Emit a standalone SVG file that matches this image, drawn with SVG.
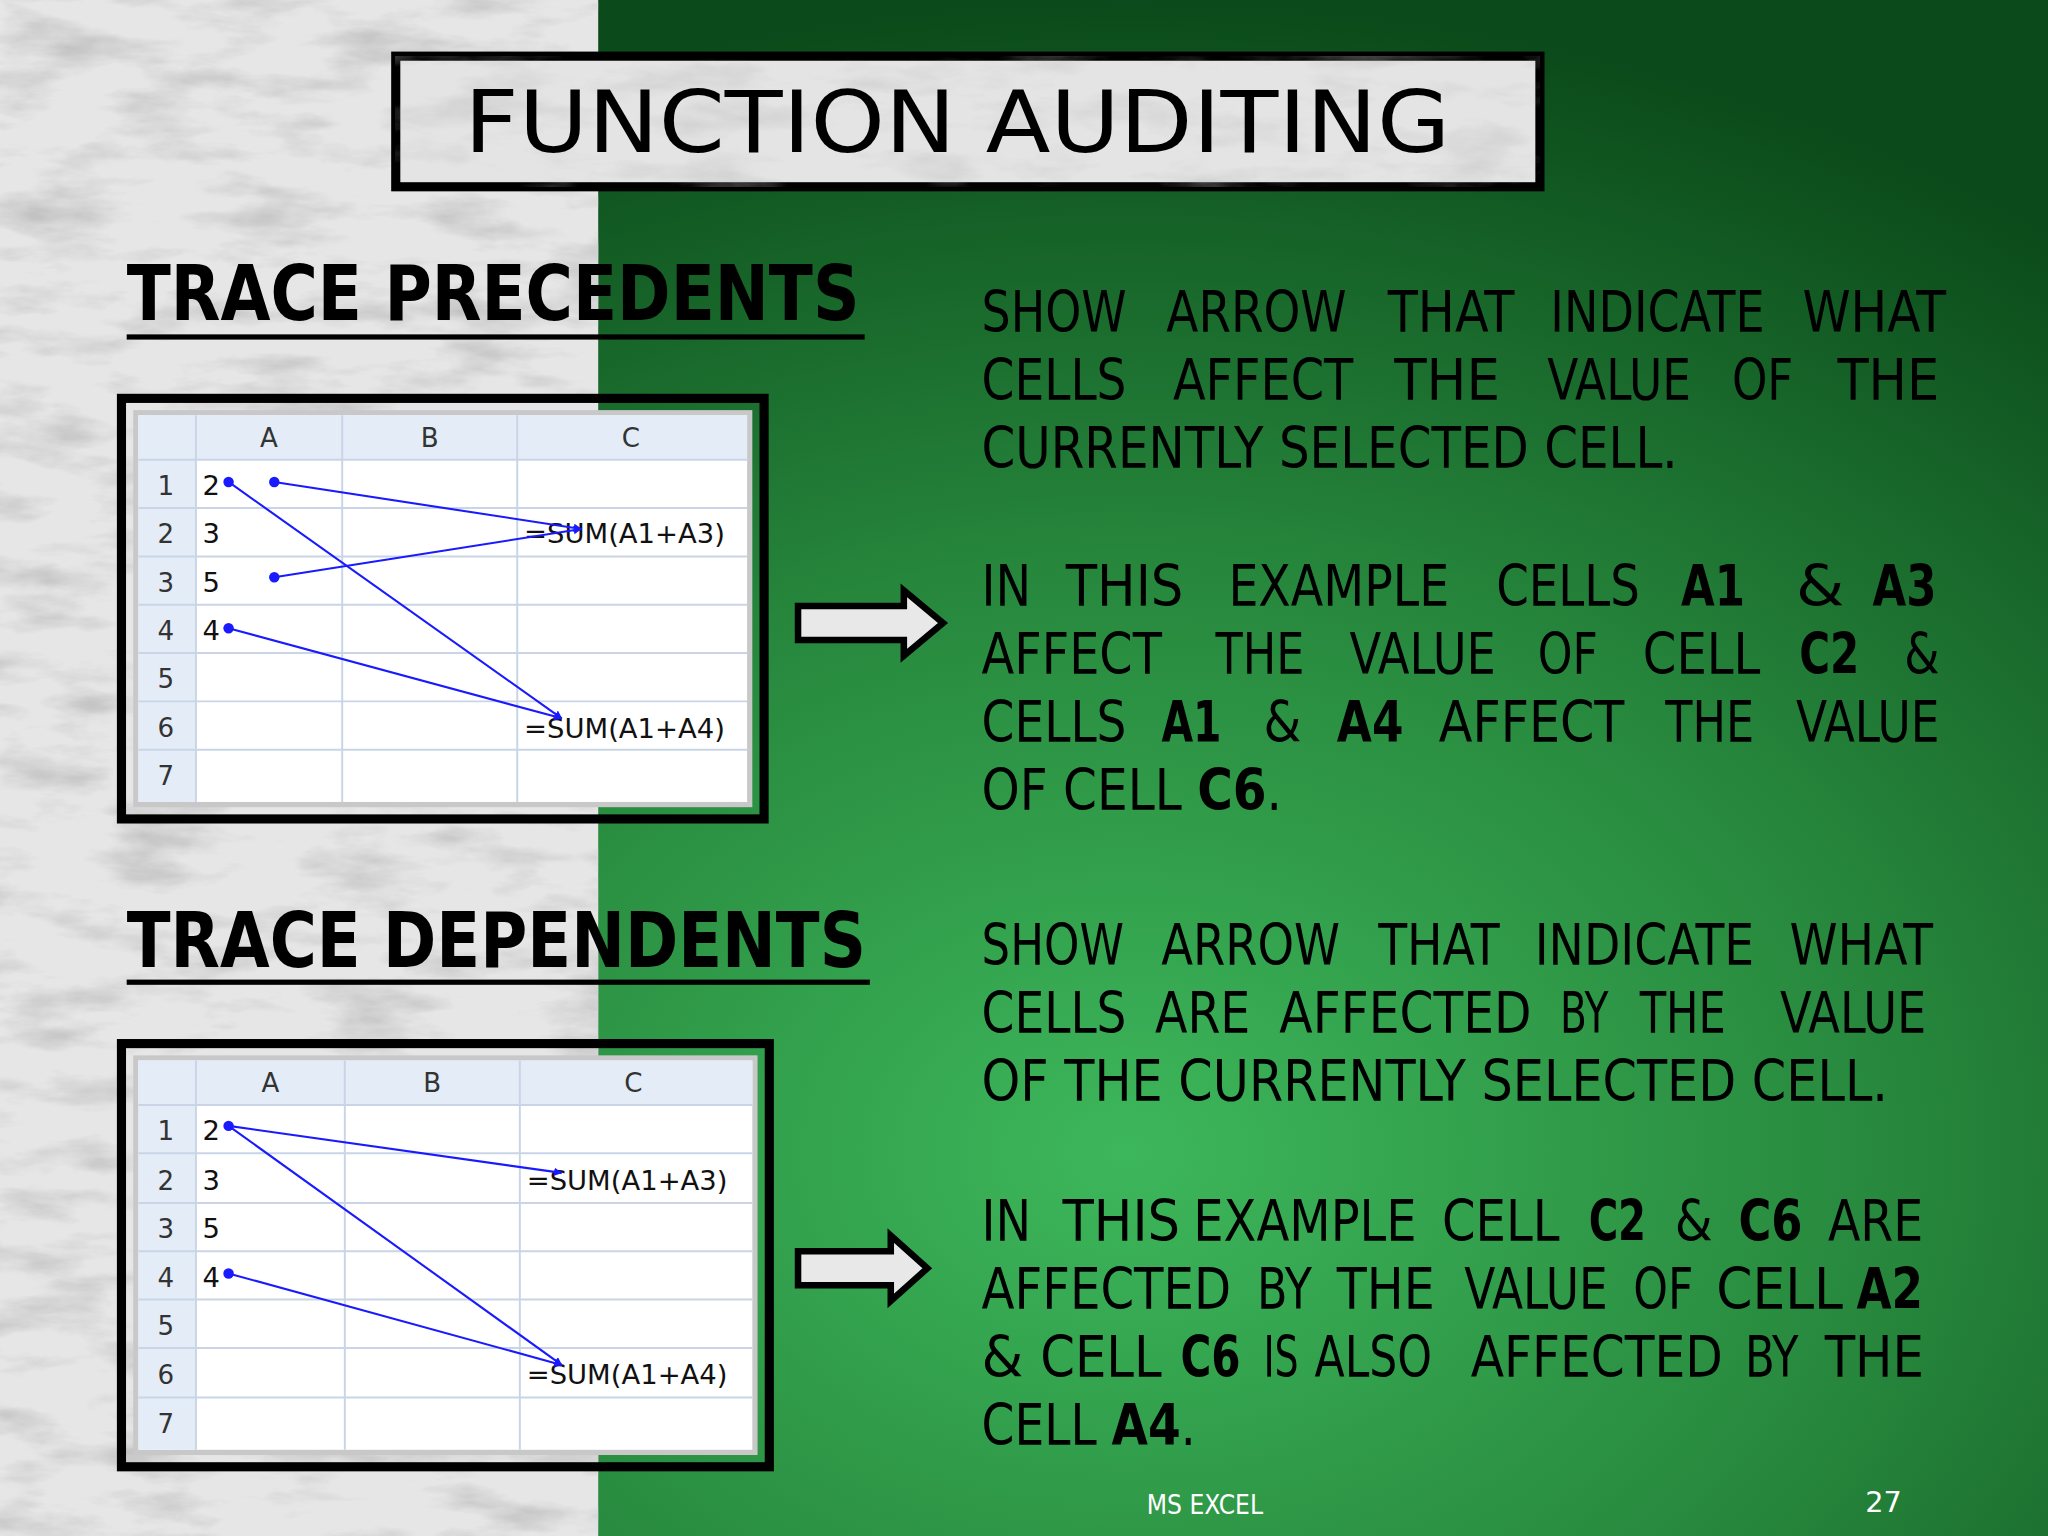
<svg xmlns="http://www.w3.org/2000/svg" width="2048" height="1536" viewBox="0 0 2048 1536">
<defs>
<radialGradient id="grn" cx="0.55" cy="0.75" r="0.75">
<stop offset="0" stop-color="#3db75b"/><stop offset="0.5" stop-color="#27883d"/><stop offset="1" stop-color="#0b4a1a"/>
</radialGradient>
<filter id="marble" x="0" y="0" width="1" height="1">
<feTurbulence type="fractalNoise" baseFrequency="0.012 0.04" numOctaves="5" seed="3"/>
<feColorMatrix type="matrix" values="0 0 0 0 0.45  0 0 0 0 0.45  0 0 0 0 0.45  1.6 0 0 0 -0.75"/>
</filter>
<marker id="ah" viewBox="0 0 10 10" refX="9" refY="5" markerWidth="4" markerHeight="4" orient="auto"><path d="M0,0L10,5L0,10z" fill="#1a1aff"/></marker>
<style>
.body text{font-family:"DejaVu Sans Condensed","DejaVu Sans","Liberation Sans",sans-serif;font-size:43px;fill:#000}
.b{font-weight:bold}
.hd{font-family:"DejaVu Sans","Liberation Sans",sans-serif;font-weight:bold;font-size:58px;fill:#000}
.cell{font-family:"DejaVu Sans","Liberation Sans",sans-serif;font-size:21px;fill:#111}
.hdr{font-family:"DejaVu Sans","Liberation Sans",sans-serif;font-size:20px;fill:#333}
.grid{stroke:#c9d5e6;stroke-width:1.5}
.lk{stroke:#1a1aff;stroke-width:1.6;fill:none}
.dot{fill:#1a1aff}
.barr{fill:#e8e8e8;stroke:#000;stroke-width:5;stroke-linejoin:miter}
</style>
</defs>
<g transform="scale(1.30612)">
<rect x="0" y="0" width="1568" height="1176" fill="url(#grn)"/>
<rect x="0" y="0" width="458" height="1176" fill="#e6e6e6"/>
<rect x="0" y="0" width="458" height="1176" filter="url(#marble)"/>
<g id="title">
<rect x="303" y="43" width="876" height="100" fill="#e4e4e4" stroke="#000" stroke-width="7"/>
<rect x="303" y="43" width="876" height="100" filter="url(#marble)" opacity="0.6"/>
<text x="733" y="116" text-anchor="middle" font-family="DejaVu Sans,Liberation Sans,sans-serif" font-size="66" textLength="755" lengthAdjust="spacingAndGlyphs">FUNCTION AUDITING</text>
</g>
<g id="h1">
<text class="hd" x="97" y="245" textLength="561" lengthAdjust="spacingAndGlyphs">TRACE PRECEDENTS</text>
<rect x="97" y="256" width="565" height="4" fill="#000"/>
</g>
<g id="h2">
<text class="hd" x="97" y="740" textLength="566" lengthAdjust="spacingAndGlyphs">TRACE DEPENDENTS</text>
<rect x="97" y="750" width="569" height="4" fill="#000"/>
</g>
<g id="sheet1">
<rect x="93" y="305" width="492" height="322" fill="none" stroke="#000" stroke-width="7"/>
<rect x="102" y="314" width="474" height="304" fill="#c8c8c8"/>
<rect x="106" y="318" width="466" height="296" fill="#fff"/>
<rect x="106" y="318" width="466" height="34" fill="#e3ecf7"/>
<rect x="106" y="318" width="44" height="296" fill="#e3ecf7"/>
<g class="grid">
<line x1="106" y1="352" x2="572" y2="352"/><line x1="106" y1="389" x2="572" y2="389"/><line x1="106" y1="426" x2="572" y2="426"/><line x1="106" y1="463" x2="572" y2="463"/><line x1="106" y1="500" x2="572" y2="500"/><line x1="106" y1="537" x2="572" y2="537"/><line x1="106" y1="574" x2="572" y2="574"/>
<line x1="150" y1="318" x2="150" y2="614"/><line x1="262" y1="318" x2="262" y2="614"/><line x1="396" y1="318" x2="396" y2="614"/>
</g>
<text class="hdr" x="206" y="342" text-anchor="middle">A</text><text class="hdr" x="329" y="342" text-anchor="middle">B</text><text class="hdr" x="483" y="342" text-anchor="middle">C</text>
<text class="hdr" x="127" y="379" text-anchor="middle">1</text><text class="hdr" x="127" y="416" text-anchor="middle">2</text><text class="hdr" x="127" y="453" text-anchor="middle">3</text><text class="hdr" x="127" y="490" text-anchor="middle">4</text><text class="hdr" x="127" y="527" text-anchor="middle">5</text><text class="hdr" x="127" y="564" text-anchor="middle">6</text><text class="hdr" x="127" y="601" text-anchor="middle">7</text>
<text class="cell" x="155" y="379">2</text><text class="cell" x="155" y="416">3</text><text class="cell" x="155" y="453">5</text><text class="cell" x="155" y="490">4</text>
<text class="cell" x="555" y="416" text-anchor="end">=SUM(A1+A3)</text><text class="cell" x="555" y="565" text-anchor="end">=SUM(A1+A4)</text>
</g>
<g id="sheet2">
<rect x="93" y="799" width="496" height="324" fill="none" stroke="#000" stroke-width="7"/>
<rect x="102" y="808" width="478" height="306" fill="#c8c8c8"/>
<rect x="106" y="812" width="470" height="298" fill="#fff"/>
<rect x="106" y="812" width="470" height="34" fill="#e3ecf7"/>
<rect x="106" y="812" width="44" height="298" fill="#e3ecf7"/>
<g class="grid">
<line x1="106" y1="846" x2="576" y2="846"/><line x1="106" y1="883" x2="576" y2="883"/><line x1="106" y1="921" x2="576" y2="921"/><line x1="106" y1="958" x2="576" y2="958"/><line x1="106" y1="995" x2="576" y2="995"/><line x1="106" y1="1032" x2="576" y2="1032"/><line x1="106" y1="1070" x2="576" y2="1070"/>
<line x1="150" y1="812" x2="150" y2="1110"/><line x1="264" y1="812" x2="264" y2="1110"/><line x1="398" y1="812" x2="398" y2="1110"/>
</g>
<text class="hdr" x="207" y="836" text-anchor="middle">A</text><text class="hdr" x="331" y="836" text-anchor="middle">B</text><text class="hdr" x="485" y="836" text-anchor="middle">C</text>
<text class="hdr" x="127" y="873" text-anchor="middle">1</text><text class="hdr" x="127" y="911" text-anchor="middle">2</text><text class="hdr" x="127" y="948" text-anchor="middle">3</text><text class="hdr" x="127" y="985" text-anchor="middle">4</text><text class="hdr" x="127" y="1022" text-anchor="middle">5</text><text class="hdr" x="127" y="1060" text-anchor="middle">6</text><text class="hdr" x="127" y="1097" text-anchor="middle">7</text>
<text class="cell" x="155" y="873">2</text><text class="cell" x="155" y="911">3</text><text class="cell" x="155" y="948">5</text><text class="cell" x="155" y="985">4</text>
<text class="cell" x="557" y="911" text-anchor="end">=SUM(A1+A3)</text><text class="cell" x="557" y="1060" text-anchor="end">=SUM(A1+A4)</text>
</g>
<g id="connectors">
<line class="lk" x1="210" y1="369" x2="445" y2="405" marker-end="url(#ah)"/>
<line class="lk" x1="210" y1="442" x2="445" y2="405" marker-end="url(#ah)"/>
<line class="lk" x1="175" y1="369" x2="430" y2="550" marker-end="url(#ah)"/>
<line class="lk" x1="175" y1="481" x2="430" y2="550" marker-end="url(#ah)"/>
<circle class="dot" cx="210" cy="369" r="4"/><circle class="dot" cx="210" cy="442" r="4"/><circle class="dot" cx="175" cy="369" r="4"/><circle class="dot" cx="175" cy="481" r="4"/>
<line class="lk" x1="175" y1="862" x2="430" y2="898" marker-end="url(#ah)"/>
<line class="lk" x1="175" y1="862" x2="430" y2="1045" marker-end="url(#ah)"/>
<line class="lk" x1="175" y1="975" x2="430" y2="1045" marker-end="url(#ah)"/>
<circle class="dot" cx="175" cy="862" r="4"/><circle class="dot" cx="175" cy="975" r="4"/>
<polygon class="barr" points="611,464 692,464 692,452 722,477 692,502 692,490 611,490"/>
<polygon class="barr" points="611,958 682,958 682,946 710,971 682,996 682,984 611,984"/>
</g>
<g id="text1" class="body" lengthAdjust="spacingAndGlyphs">
<text x="751.5" y="254" textLength="111" lengthAdjust="spacingAndGlyphs">SHOW</text><text x="893" y="254" textLength="138" lengthAdjust="spacingAndGlyphs">ARROW</text><text x="1062.5" y="254" textLength="97" lengthAdjust="spacingAndGlyphs">THAT</text><text x="1187" y="254" textLength="164" lengthAdjust="spacingAndGlyphs">INDICATE</text><text x="1380" y="254" textLength="110" lengthAdjust="spacingAndGlyphs">WHAT</text>
<text x="751.5" y="306" textLength="111" lengthAdjust="spacingAndGlyphs">CELLS</text><text x="898" y="306" textLength="138" lengthAdjust="spacingAndGlyphs">AFFECT</text><text x="1067.4" y="306" textLength="81" lengthAdjust="spacingAndGlyphs">THE</text><text x="1184.6" y="306" textLength="110" lengthAdjust="spacingAndGlyphs">VALUE</text><text x="1326" y="306" textLength="47" lengthAdjust="spacingAndGlyphs">OF</text><text x="1406.8" y="306" textLength="78" lengthAdjust="spacingAndGlyphs">THE</text>
<text x="751.5" y="358" textLength="533" lengthAdjust="spacingAndGlyphs">CURRENTLY SELECTED CELL.</text>
<text x="751.5" y="464" textLength="38" lengthAdjust="spacingAndGlyphs">IN</text><text x="816" y="464" textLength="90" lengthAdjust="spacingAndGlyphs">THIS</text><text x="940.5" y="464" textLength="169" lengthAdjust="spacingAndGlyphs">EXAMPLE</text><text x="1145.5" y="464" textLength="110" lengthAdjust="spacingAndGlyphs">CELLS</text><text class="b" x="1287" y="464" textLength="49" lengthAdjust="spacingAndGlyphs">A1</text><text x="1375" y="464" textLength="37" lengthAdjust="spacingAndGlyphs">&amp;</text><text class="b" x="1433.6" y="464" textLength="49" lengthAdjust="spacingAndGlyphs">A3</text>
<text x="751.5" y="516" textLength="138" lengthAdjust="spacingAndGlyphs">AFFECT</text><text x="930.7" y="516" textLength="68" lengthAdjust="spacingAndGlyphs">THE</text><text x="1033.2" y="516" textLength="112" lengthAdjust="spacingAndGlyphs">VALUE</text><text x="1177.3" y="516" textLength="46" lengthAdjust="spacingAndGlyphs">OF</text><text x="1257.8" y="516" textLength="90" lengthAdjust="spacingAndGlyphs">CELL</text><text class="b" x="1377.5" y="516" textLength="46" lengthAdjust="spacingAndGlyphs">C2</text><text x="1458" y="516" textLength="27" lengthAdjust="spacingAndGlyphs">&amp;</text>
<text x="751.5" y="568" textLength="111" lengthAdjust="spacingAndGlyphs">CELLS</text><text class="b" x="889.2" y="568" textLength="46" lengthAdjust="spacingAndGlyphs">A1</text><text x="967.3" y="568" textLength="29" lengthAdjust="spacingAndGlyphs">&amp;</text><text class="b" x="1023.5" y="568" textLength="51" lengthAdjust="spacingAndGlyphs">A4</text><text x="1101.6" y="568" textLength="142" lengthAdjust="spacingAndGlyphs">AFFECT</text><text x="1275" y="568" textLength="68" lengthAdjust="spacingAndGlyphs">THE</text><text x="1375" y="568" textLength="110" lengthAdjust="spacingAndGlyphs">VALUE</text>
<text x="751.5" y="620" textLength="230" lengthAdjust="spacingAndGlyphs">OF CELL <tspan class="b">C6</tspan>.</text>
</g>
<g id="text2" class="body">
<text x="751.5" y="739" textLength="109" lengthAdjust="spacingAndGlyphs">SHOW</text><text x="889" y="739" textLength="137" lengthAdjust="spacingAndGlyphs">ARROW</text><text x="1055.2" y="739" textLength="93" lengthAdjust="spacingAndGlyphs">THAT</text><text x="1175" y="739" textLength="168" lengthAdjust="spacingAndGlyphs">INDICATE</text><text x="1370" y="739" textLength="110" lengthAdjust="spacingAndGlyphs">WHAT</text>
<text x="751.5" y="791" textLength="111" lengthAdjust="spacingAndGlyphs">CELLS</text><text x="884.3" y="791" textLength="73" lengthAdjust="spacingAndGlyphs">ARE</text><text x="979.5" y="791" textLength="193" lengthAdjust="spacingAndGlyphs">AFFECTED</text><text x="1194.4" y="791" textLength="37" lengthAdjust="spacingAndGlyphs">BY</text><text x="1255.4" y="791" textLength="66" lengthAdjust="spacingAndGlyphs">THE</text><text x="1362.8" y="791" textLength="112" lengthAdjust="spacingAndGlyphs">VALUE</text>
<text x="751.5" y="843" textLength="694" lengthAdjust="spacingAndGlyphs">OF THE CURRENTLY SELECTED CELL.</text>
<text x="751.5" y="950" textLength="38" lengthAdjust="spacingAndGlyphs">IN</text><text x="813.5" y="950" textLength="90" lengthAdjust="spacingAndGlyphs">THIS</text><text x="913.6" y="950" textLength="171" lengthAdjust="spacingAndGlyphs">EXAMPLE</text><text x="1104" y="950" textLength="90" lengthAdjust="spacingAndGlyphs">CELL</text><text class="b" x="1216.3" y="950" textLength="44" lengthAdjust="spacingAndGlyphs">C2</text><text x="1282.3" y="950" textLength="29" lengthAdjust="spacingAndGlyphs">&amp;</text><text class="b" x="1331" y="950" textLength="49" lengthAdjust="spacingAndGlyphs">C6</text><text x="1399.5" y="950" textLength="73" lengthAdjust="spacingAndGlyphs">ARE</text>
<text x="751.5" y="1002" textLength="191" lengthAdjust="spacingAndGlyphs">AFFECTED</text><text x="962.4" y="1002" textLength="42" lengthAdjust="spacingAndGlyphs">BY</text><text x="1023.5" y="1002" textLength="75" lengthAdjust="spacingAndGlyphs">THE</text><text x="1121" y="1002" textLength="110" lengthAdjust="spacingAndGlyphs">VALUE</text><text x="1250.5" y="1002" textLength="46" lengthAdjust="spacingAndGlyphs">OF</text><text x="1314" y="1002" textLength="97" lengthAdjust="spacingAndGlyphs">CELL</text><text class="b" x="1421.4" y="1002" textLength="51" lengthAdjust="spacingAndGlyphs">A2</text>
<text x="751.5" y="1054" textLength="32" lengthAdjust="spacingAndGlyphs">&amp;</text><text x="796.4" y="1054" textLength="93" lengthAdjust="spacingAndGlyphs">CELL</text><text class="b" x="903.8" y="1054" textLength="46" lengthAdjust="spacingAndGlyphs">C6</text><text x="967.3" y="1054" textLength="27" lengthAdjust="spacingAndGlyphs">IS</text><text x="1006.4" y="1054" textLength="90" lengthAdjust="spacingAndGlyphs">ALSO</text><text x="1126" y="1054" textLength="193" lengthAdjust="spacingAndGlyphs">AFFECTED</text><text x="1336" y="1054" textLength="41" lengthAdjust="spacingAndGlyphs">BY</text><text x="1397" y="1054" textLength="76" lengthAdjust="spacingAndGlyphs">THE</text>
<text x="751.5" y="1106" textLength="164" lengthAdjust="spacingAndGlyphs">CELL <tspan class="b">A4</tspan>.</text>
</g>
<g id="footer" font-family="DejaVu Sans,Liberation Sans,sans-serif" fill="#fff">
<text x="878" y="1159" font-size="20" textLength="89" lengthAdjust="spacingAndGlyphs">MS EXCEL</text>
<text x="1428" y="1158" font-size="22">27</text>
</g>
</g>
</svg>
